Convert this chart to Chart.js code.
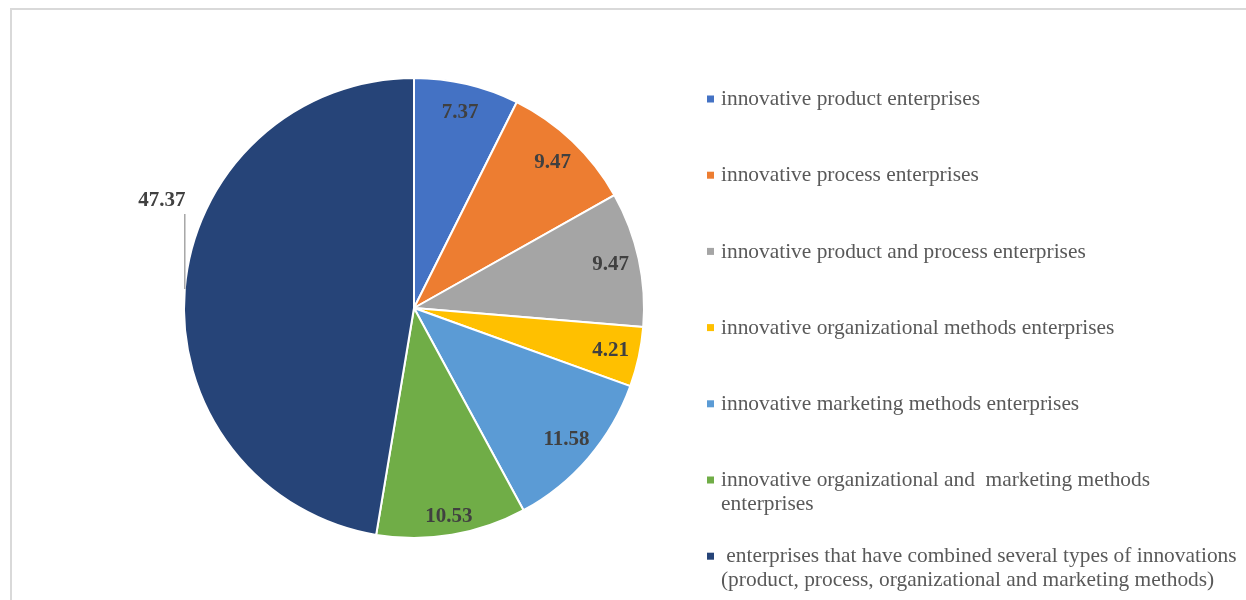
<!DOCTYPE html>
<html>
<head>
<meta charset="utf-8">
<script src="https://cdn.jsdelivr.net/npm/chart.js@4/dist/chart.umd.min.js"></script>
<style>
  html, body { margin: 0; padding: 0; background: #fff; }
  #wrap { width: 1246px; height: 600px; position: relative; }
</style>
</head>
<body>
<div id="wrap"><canvas id="pieChart" width="1246" height="600"></canvas></div>
<script>
// data
const categories = [
    "innovative product enterprises",
    "innovative process enterprises",
    "innovative product and process enterprises",
    "innovative organizational methods enterprises",
    "innovative marketing methods enterprises",
    ["innovative organizational and  marketing methods", "enterprises"],
    [" enterprises that have combined several types of innovations", "(product, process, organizational and marketing methods)"]
];
const shares = [7.37, 9.47, 9.47, 4.21, 11.58, 10.53, 47.37];
const colors = ["#4472C4", "#ED7D31", "#A5A5A5", "#FFC000", "#5B9BD5", "#70AD47", "#264478"];

const serif = '"Liberation Serif", "Times New Roman", serif';

// slice values + the one leader-lined label outside the pie
const labelsPlugin = {
    id: "pieLabels",
    beforeDraw(chart) {
        let ctx = chart.ctx;
        ctx.save();
        ctx.strokeStyle = "#d9d9d9";
        ctx.lineWidth = 2;
        ctx.strokeRect(11, 9, 1400, 800);
        ctx.restore();
    },
    afterDatasetsDraw(chart) {
        let ctx = chart.ctx;
        let meta = chart.getDatasetMeta(0);
        ctx.save();
        ctx.font = "bold 21px " + serif;
        ctx.fillStyle = "#404040";
        ctx.textAlign = "center";
        ctx.textBaseline = "middle";
        meta.data.forEach((arc, i) => {
            let p = arc.getProps(["x", "y", "startAngle", "endAngle", "outerRadius"], true);
            let mid = (p.startAngle + p.endAngle) / 2;
            let txt = shares[i].toFixed(2);
            if (i === shares.length - 1) {
                // outside label with a vertical leader line
                let ex = p.x + Math.cos(mid) * p.outerRadius;
                let ey = p.y + Math.sin(mid) * p.outerRadius;
                ctx.strokeStyle = "#a6a6a6";
                ctx.lineWidth = 1.5;
                ctx.beginPath();
                ctx.moveTo(ex, ey);
                ctx.lineTo(ex, ey - 75);
                ctx.stroke();
                ctx.fillText(txt, ex - 23, ey - 88);
            } else {
                let r = p.outerRadius * (i === 5 ? 0.92 : 0.875);
                ctx.fillText(txt, p.x + Math.cos(mid) * r, p.y + Math.sin(mid) * r);
            }
        });
        ctx.restore();
    }
};

// legend drawn by hand to keep the wide row spacing
const legendPlugin = {
    id: "sideLegend",
    afterDraw(chart) {
        let ctx = chart.ctx;
        ctx.save();
        ctx.font = "21.4px " + serif;
        ctx.textBaseline = "middle";
        ctx.textAlign = "left";
        categories.forEach((label, i) => {
            let y = 99.5 + i * 76.2;
            let lines = Array.isArray(label) ? label : [label];
            ctx.fillStyle = colors[i];
            ctx.fillRect(707, y - 4, 7, 7);
            ctx.fillStyle = "#595959";
            lines.forEach((ln, k) => ctx.fillText(ln, 721, y + k * 24));
        });
        ctx.restore();
    }
};

new Chart(document.getElementById("pieChart").getContext("2d"), {
    type: "pie",
    data: {
        labels: categories,
        datasets: [{
            data: shares,
            backgroundColor: colors,
            borderColor: "#ffffff",
            borderWidth: 2
        }]
    },
    options: {
        responsive: false,
        animation: false,
        layout: { padding: { left: 183, top: 77, right: 601, bottom: 61 } },
        plugins: {
            legend: { display: false },
            tooltip: { enabled: false }
        }
    },
    plugins: [labelsPlugin, legendPlugin]
});
</script>
</body>
</html>
